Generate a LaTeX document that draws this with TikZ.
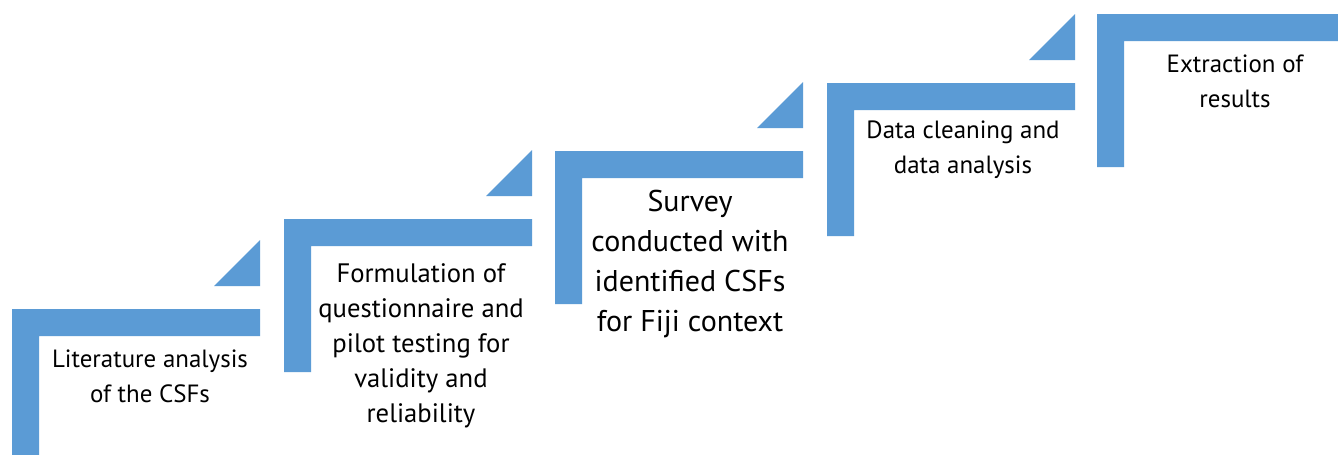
\documentclass[tikz,border=0pt]{standalone}
\usepackage{fontspec}
\setmainfont{PT Sans}
\usetikzlibrary{positioning}

\begin{document}
\begin{tikzpicture}[x=0.75pt, y=-0.75pt,
    steptext/.style={align=center, inner sep=0pt, text=black,
                     font=\fontsize{18.7}{26}\selectfont},
    midtext/.style={steptext, font=\fontsize{20}{26.3}\selectfont},
    bigtext/.style={steptext, font=\fontsize{22.5}{30}\selectfont}]
  \def\barw{27}
  \def\armlen{248}
  \def\legh{153}
  \def\tri{46}
  \colorlet{stepblue}{rgb,255:red,91;green,155;blue,213}

  % canvas 1338 x 454 px, y grows downwards
  \clip (0,0) rectangle (1338,454);
  \fill[white] (0,0) rectangle (1338,454);

  %--- L-shaped steps (top-left corner of each) ---
  \foreach \x/\y in {12/309, 284/219, 555/151, 827/83, 1097/14} {
    \fill[stepblue] (\x,\y) -- ++(\armlen,0) -- ++(0,\barw)
      -- ({\x+\barw},{\y+\barw}) -- ({\x+\barw},{\y+\legh})
      -- (\x,{\y+\legh}) -- cycle;
  }

  %--- small triangles above the right end of steps 1-4 ---
  \foreach \x/\y in {12/309, 284/219, 555/151, 827/83} {
    \fill[stepblue] ({\x+\armlen},{\y-23}) -- ++(-\tri,0)
      -- ++(\tri,-\tri) -- cycle;
  }

  %--- step texts ---
  \node[steptext] (lit)     at (150,376)  {Literature analysis\\of the CSFs};
  \node[midtext]  (formul)  at (421,346)  {Formulation of\\questionnaire and\\pilot testing for\\validity and\\reliability};
  \node[bigtext]  (survey)  at (690,264)  {Survey\\conducted with\\identified CSFs\\for Fiji context};
  \node[steptext] (clean)   at (963,150)  {Data cleaning and\\data analysis};
  \node[steptext] (extract) at (1235,81)  {Extraction of\\results};

\end{tikzpicture}
\end{document}
